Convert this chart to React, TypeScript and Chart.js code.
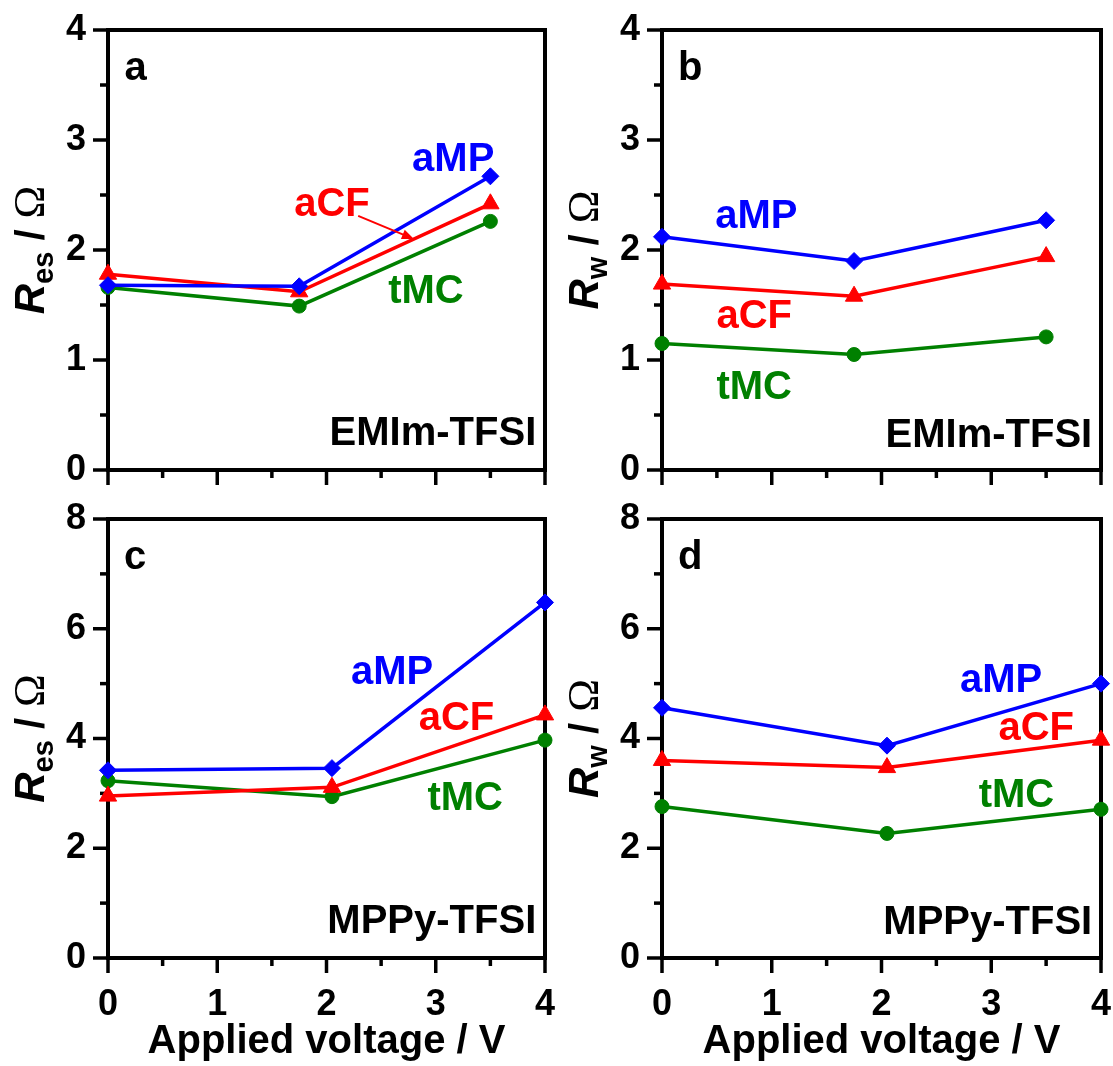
import React, { useEffect, useRef } from 'react';
import { Chart, registerables } from 'chart.js';

Chart.register(...registerables);

// ---------- data ----------
const seriesNames = ['aMP', 'aCF', 'tMC'];
const seriesColors = ['#0000ff', '#ff0000', '#008000'];
const seriesMarkers = ['rectRot', 'triangle', 'circle'];

const voltageEMIm = [0, 1.75, 3.5];
const voltageMPPy = [0, 2.05, 4];

// panel a: Res, EMIm-TFSI
const resEMIm_aMP = [1.68, 1.67, 2.67];
const resEMIm_aCF = [1.78, 1.62, 2.42];
const resEMIm_tMC = [1.66, 1.49, 2.26];
// panel b: Rw, EMIm-TFSI
const rwEMIm_aMP = [2.12, 1.9, 2.27];
const rwEMIm_aCF = [1.69, 1.58, 1.94];
const rwEMIm_tMC = [1.15, 1.05, 1.21];
// panel c: Res, MPPy-TFSI
const resMPPy_aMP = [3.42, 3.46, 6.48];
const resMPPy_aCF = [2.95, 3.11, 4.43];
const resMPPy_tMC = [3.23, 2.94, 3.97];
// panel d: Rw, MPPy-TFSI
const rwMPPy_aMP = [4.56, 3.87, 5.0];
const rwMPPy_aCF = [3.6, 3.47, 3.97];
const rwMPPy_tMC = [2.76, 2.27, 2.71];

const xTickLabels = ['0', '1', '2', '3', '4'];
const xAxisTitle = 'Applied voltage / V';

type Label = { text: string; x: number; y: number; color: string; kind: 'series' | 'solvent' | 'letter' };

type PanelDef = {
  rect: { left: number; top: number; width: number; height: number };
  area: { left: number; right: number; top: number; bottom: number };
  xs: number[];
  series: number[][];
  yMax: number;
  yMajor: number;
  yMinor: number;
  showX: boolean;
  sub: string;
  labels: Label[];
  arrow?: { x1: number; y1: number; x2: number; y2: number; color: string };
};

const FONT = '"Liberation Sans", Arial, sans-serif';

const panels: PanelDef[] = [
  {
    rect: { left: 0, top: 0, width: 556, height: 490 },
    area: { left: 108, right: 547, top: 30, bottom: 470 },
    xs: voltageEMIm,
    series: [resEMIm_aMP, resEMIm_aCF, resEMIm_tMC],
    yMax: 4, yMajor: 1, yMinor: 0.5, showX: false, sub: 'es',
    labels: [
      { text: 'aMP', x: 3.16, y: 2.82, color: seriesColors[0], kind: 'series' },
      { text: 'aCF', x: 2.05, y: 2.41, color: seriesColors[1], kind: 'series' },
      { text: 'tMC', x: 2.91, y: 1.62, color: seriesColors[2], kind: 'series' },
      { text: 'EMIm-TFSI', x: 3.92, y: 0.23, color: '#000', kind: 'solvent' },
      { text: 'a', x: 0.15, y: 3.55, color: '#000', kind: 'letter' },
    ],
    arrow: { x1: 2.29, y1: 2.31, x2: 2.8, y2: 2.1, color: seriesColors[1] },
  },
  {
    rect: { left: 556, top: 0, width: 557, height: 490 },
    area: { left: 106, right: 545, top: 30, bottom: 470 },
    xs: voltageEMIm,
    series: [rwEMIm_aMP, rwEMIm_aCF, rwEMIm_tMC],
    yMax: 4, yMajor: 1, yMinor: 0.5, showX: false, sub: 'w',
    labels: [
      { text: 'aMP', x: 0.86, y: 2.3, color: seriesColors[0], kind: 'series' },
      { text: 'aCF', x: 0.84, y: 1.39, color: seriesColors[1], kind: 'series' },
      { text: 'tMC', x: 0.84, y: 0.75, color: seriesColors[2], kind: 'series' },
      { text: 'EMIm-TFSI', x: 3.92, y: 0.21, color: '#000', kind: 'solvent' },
      { text: 'b', x: 0.145, y: 3.55, color: '#000', kind: 'letter' },
    ],
  },
  {
    rect: { left: 0, top: 490, width: 556, height: 576 },
    area: { left: 108, right: 547, top: 29, bottom: 468 },
    xs: voltageMPPy,
    series: [resMPPy_aMP, resMPPy_aCF, resMPPy_tMC],
    yMax: 8, yMajor: 2, yMinor: 1, showX: true, sub: 'es',
    labels: [
      { text: 'aMP', x: 2.6, y: 5.2, color: seriesColors[0], kind: 'series' },
      { text: 'aCF', x: 3.19, y: 4.35, color: seriesColors[1], kind: 'series' },
      { text: 'tMC', x: 3.27, y: 2.89, color: seriesColors[2], kind: 'series' },
      { text: 'MPPy-TFSI', x: 3.92, y: 0.46, color: '#000', kind: 'solvent' },
      { text: 'c', x: 0.146, y: 7.08, color: '#000', kind: 'letter' },
    ],
  },
  {
    rect: { left: 556, top: 490, width: 557, height: 576 },
    area: { left: 106, right: 545, top: 29, bottom: 468 },
    xs: voltageMPPy,
    series: [rwMPPy_aMP, rwMPPy_aCF, rwMPPy_tMC],
    yMax: 8, yMajor: 2, yMinor: 1, showX: true, sub: 'w',
    labels: [
      { text: 'aMP', x: 3.09, y: 5.04, color: seriesColors[0], kind: 'series' },
      { text: 'aCF', x: 3.41, y: 4.18, color: seriesColors[1], kind: 'series' },
      { text: 'tMC', x: 3.23, y: 2.95, color: seriesColors[2], kind: 'series' },
      { text: 'MPPy-TFSI', x: 3.92, y: 0.43, color: '#000', kind: 'solvent' },
      { text: 'd', x: 0.145, y: 7.08, color: '#000', kind: 'letter' },
    ],
  },
];

function makeDecorPlugin(p: PanelDef) {
  return {
    id: 'decor',
    beforeDatasetsDraw(chart: any) {
      const ctx = chart.ctx as CanvasRenderingContext2D;
      const { left, right, top, bottom } = chart.chartArea;
      const xs = chart.scales.x;
      const ys = chart.scales.y;
      ctx.save();
      ctx.strokeStyle = '#000';
      ctx.lineWidth = 3.5;
      ctx.lineCap = 'butt';
      // ticks on y
      for (let v = 0; v <= p.yMax + 1e-9; v += p.yMinor) {
        const major = Math.abs(v / p.yMajor - Math.round(v / p.yMajor)) < 1e-6;
        const py = ys.getPixelForValue(v);
        ctx.beginPath();
        ctx.moveTo(left, py);
        ctx.lineTo(left - (major ? 15 : 8), py);
        ctx.stroke();
      }
      // ticks on x
      for (let v = 0; v <= 4 + 1e-9; v += 0.5) {
        const major = Math.abs(v - Math.round(v)) < 1e-6;
        const px = xs.getPixelForValue(v);
        ctx.beginPath();
        ctx.moveTo(px, bottom);
        ctx.lineTo(px, bottom + (major ? 15 : 8));
        ctx.stroke();
      }
      ctx.lineWidth = 4;
      ctx.lineJoin = 'miter';
      ctx.strokeRect(left, top, right - left, bottom - top);
      ctx.restore();
    },
    afterDatasetsDraw(chart: any) {
      const ctx = chart.ctx as CanvasRenderingContext2D;
      const { left, right, top, bottom } = chart.chartArea;
      const xs = chart.scales.x;
      const ys = chart.scales.y;
      ctx.save();
      // annotation labels
      for (const l of p.labels) {
        const px = xs.getPixelForValue(l.x);
        const py = ys.getPixelForValue(l.y);
        ctx.fillStyle = l.color;
        ctx.font = `bold 40px ${FONT}`;
        if (l.kind === 'series') {
          ctx.textAlign = 'center';
          ctx.textBaseline = 'middle';
        } else if (l.kind === 'solvent') {
          ctx.textAlign = 'right';
          ctx.textBaseline = 'alphabetic';
        } else {
          ctx.textAlign = 'left';
          ctx.textBaseline = 'alphabetic';
        }
        ctx.fillText(l.text, px, py);
      }
      // arrow
      if (p.arrow) {
        const a = p.arrow;
        const x1 = xs.getPixelForValue(a.x1), y1 = ys.getPixelForValue(a.y1);
        const x2 = xs.getPixelForValue(a.x2), y2 = ys.getPixelForValue(a.y2);
        const ang = Math.atan2(y2 - y1, x2 - x1);
        const hl = 12, hw = 5;
        ctx.strokeStyle = a.color;
        ctx.fillStyle = a.color;
        ctx.lineWidth = 2;
        ctx.beginPath();
        ctx.moveTo(x1, y1);
        ctx.lineTo(x2 - Math.cos(ang) * hl * 0.8, y2 - Math.sin(ang) * hl * 0.8);
        ctx.stroke();
        ctx.beginPath();
        ctx.moveTo(x2, y2);
        ctx.lineTo(x2 - Math.cos(ang) * hl - Math.sin(ang) * hw, y2 - Math.sin(ang) * hl + Math.cos(ang) * hw);
        ctx.lineTo(x2 - Math.cos(ang) * hl + Math.sin(ang) * hw, y2 - Math.sin(ang) * hl - Math.cos(ang) * hw);
        ctx.closePath();
        ctx.fill();
      }
      // y-axis title (rotated rich text)
      const parts = [
        { t: 'R', f: `italic bold 42px ${FONT}`, dy: 0 },
        { t: p.sub, f: `bold 29px ${FONT}`, dy: 9 },
        { t: ' / ', f: `bold 40px ${FONT}`, dy: 0 },
        { t: 'Ω', f: `44px "Liberation Serif", "Times New Roman", serif`, dy: 0 },
      ];
      let total = 0;
      const widths: number[] = [];
      for (const part of parts) {
        ctx.font = part.f;
        const w = ctx.measureText(part.t).width;
        widths.push(w);
        total += w;
      }
      const cy = (top + bottom) / 2;
      const bx = left - 64;
      ctx.translate(bx, cy);
      ctx.rotate(-Math.PI / 2);
      ctx.fillStyle = '#000';
      ctx.textAlign = 'left';
      ctx.textBaseline = 'alphabetic';
      let cx = -total / 2;
      parts.forEach((part, i) => {
        ctx.font = part.f;
        ctx.fillText(part.t, cx, part.dy);
        cx += widths[i];
      });
      ctx.setTransform(1, 0, 0, 1, 0, 0);
      // x-axis title
      if (p.showX) {
        ctx.font = `bold 40px ${FONT}`;
        ctx.fillStyle = '#000';
        ctx.textAlign = 'center';
        ctx.textBaseline = 'alphabetic';
        ctx.fillText(xAxisTitle, (left + right) / 2, bottom + 95);
      }
      ctx.restore();
    },
  };
}

function Panel({ def }: { def: PanelDef }) {
  const ref = useRef<HTMLCanvasElement | null>(null);
  useEffect(() => {
    if (!ref.current) return;
    const { rect, area } = def;
    const xAxisH = rect.height - area.bottom;
    const yAxisW = area.left;
    const datasets = def.series.map((vals, i) => ({
      label: seriesNames[i],
      data: vals.map((v, j) => ({ x: def.xs[j], y: v })),
      borderColor: seriesColors[i],
      backgroundColor: seriesColors[i],
      borderWidth: 3.5,
      pointStyle: seriesMarkers[i],
      pointRadius: seriesMarkers[i] === 'circle' ? 7 : seriesMarkers[i] === 'triangle' ? 10 : 8.5,
      pointBorderWidth: 1,
      pointBorderColor: seriesColors[i],
      pointBackgroundColor: seriesColors[i],
      tension: 0,
      clip: false as any,
    }));
    const chart = new Chart(ref.current, {
      type: 'line',
      data: { datasets },
      options: {
        animation: false,
        responsive: false,
        maintainAspectRatio: false,
        devicePixelRatio: 1,
        layout: { padding: { left: 0, top: area.top, right: rect.width - area.right, bottom: 0 } },
        plugins: { legend: { display: false }, tooltip: { enabled: false }, title: { display: false } },
        scales: {
          x: {
            type: 'linear',
            min: 0,
            max: 4,
            border: { display: false },
            grid: { display: true, drawOnChartArea: false, drawTicks: true, tickLength: 15, color: 'rgba(0,0,0,0)' },
            ticks: {
              display: def.showX,
              stepSize: 1,
              autoSkip: false,
              maxRotation: 0,
              padding: 10,
              color: '#000',
              font: { family: FONT, size: 36, weight: 'bold' },
              callback: (v: any) => xTickLabels[Math.round(Number(v))] ?? String(v),
            },
            afterFit: (s: any) => {
              s.height = xAxisH;
              s.paddingLeft = 0;
              s.paddingRight = 0;
            },
          },
          y: {
            type: 'linear',
            min: 0,
            max: def.yMax,
            border: { display: false },
            grid: { display: true, drawOnChartArea: false, drawTicks: true, tickLength: 15, color: 'rgba(0,0,0,0)' },
            ticks: {
              stepSize: def.yMajor,
              autoSkip: false,
              padding: 7,
              color: '#000',
              font: { family: FONT, size: 36, weight: 'bold' },
            },
            afterFit: (s: any) => {
              s.width = yAxisW;
              s.paddingTop = 0;
              s.paddingBottom = 0;
            },
          },
        },
      } as any,
      plugins: [makeDecorPlugin(def)],
    });
    return () => chart.destroy();
  }, [def]);
  const { rect } = def;
  return (
    <canvas
      ref={ref}
      width={rect.width}
      height={rect.height}
      style={{ position: 'absolute', left: rect.left, top: rect.top, width: rect.width, height: rect.height }}
    />
  );
}

export default function App() {
  return (
    <div style={{ position: 'absolute', left: 0, top: 0, width: 1113, height: 1066, background: '#fff', overflow: 'hidden' }}>
      {panels.map((p, i) => (
        <Panel key={i} def={p} />
      ))}
    </div>
  );
}
